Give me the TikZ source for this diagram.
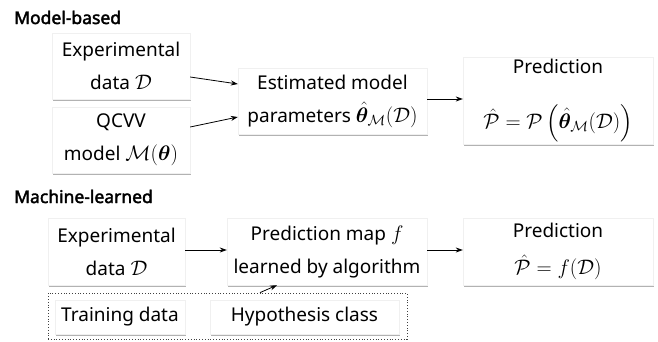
\RequirePackage{fix-cm}
\documentclass[tikz,border=0pt]{standalone}
\usepackage{amsmath}
\usepackage{bm}
\usepackage{fontspec}
\setmainfont{Noto Sans}[AutoFakeBold=2.2]
\usetikzlibrary{arrows.meta,shadows}
\newcommand{\mymath}[1]{{\fontsize{21}{33}\selectfont$#1$}}
\begin{document}
\begin{tikzpicture}[x=1pt,y=-1pt,
  box/.style={fill=white, draw=black!6, line width=0.4pt,
    drop shadow={shadow xshift=1.3pt,shadow yshift=-1.6pt,fill=black!55,opacity=0.55},
    inner sep=0pt, align=center, font=\fontsize{19}{33}\selectfont},
  title/.style={anchor=base west, inner sep=0pt, font=\fontsize{17.5}{20}\selectfont\bfseries},
  arr/.style={-{Stealth[length=7pt,width=5pt]}, line width=0.8pt},
  dotbox/.style={draw=black!75, dotted, line width=0.8pt, inner sep=0pt}]
\useasboundingbox (0,0) rectangle (658,341);

\node[title] (t1) at (14,24) {Model-based};
\node[title] (t2) at (14,203) {Machine-learned};

\node[box, minimum width=138pt, minimum height=66pt] (a) at (121,66) {Experimental\\data \mymath{\mathcal{D}}};
\node[box, minimum width=138pt, minimum height=66pt] (b) at (121,140) {QCVV\\model \mymath{\mathcal{M}(\bm{\theta})}};
\node[box, minimum width=189pt, minimum height=66pt] (c) at (332.5,101) {Estimated model\\parameters \mymath{\hat{\bm{\theta}}_{\mathcal{M}}(\mathcal{D})}};
\node[box, minimum width=190pt, minimum height=87pt] (d) at (558,100.5) {Prediction\\[22pt]\mymath{\hat{\mathcal{P}} = \mathcal{P}\left(\hat{\bm{\theta}}_{\mathcal{M}}(\mathcal{D})\right)}};

\node[box, minimum width=137pt, minimum height=67pt] (e) at (116.5,251.5) {Experimental\\data \mymath{\mathcal{D}}};
\node[box, minimum width=200pt, minimum height=67pt] (f) at (327,251.5) {Prediction map \mymath{f}\\learned by algorithm};
\node[box, minimum width=190pt, minimum height=67pt] (g) at (558,251.5) {Prediction\\[4pt]\mymath{\hat{\mathcal{P}} = f(\mathcal{D})}};

\node[dotbox, minimum width=359pt, minimum height=46pt] (tr) at (227.5,316) {};
\node[box, minimum width=130pt, minimum height=34pt] (h) at (120,317) {Training data};
\node[box, minimum width=189pt, minimum height=34pt] (i) at (304.5,317) {Hypothesis class};

\draw[arr] ([yshift=-11pt]a.east) -- ([yshift=17pt]c.west);
\draw[arr] ([yshift=13pt]b.east) -- ([yshift=-16pt]c.west);
\draw[arr] ([yshift=2pt]c.east) -- ([yshift=1.5pt]d.west);
\draw[arr] ([yshift=1.5pt]e.east) -- ([yshift=1.5pt]f.west);
\draw[arr] ([yshift=1.5pt]f.east) -- ([yshift=1.5pt]g.west);
\draw[arr] ([xshift=32.5pt]tr.north) -- ([xshift=-50pt]f.south);
\end{tikzpicture}
\end{document}
